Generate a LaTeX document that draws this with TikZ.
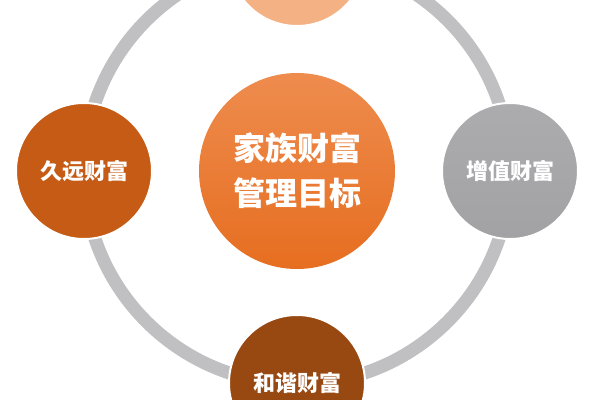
\documentclass[tikz,border=0pt]{standalone}
\usepackage{fontspec}
\newfontfamily\cjk{Noto Sans CJK SC}
\definecolor{ringgray}{RGB}{192,191,193}
\definecolor{peach}{RGB}{244,177,131}
\definecolor{rust}{RGB}{197,91,20}
\definecolor{deepbrown}{RGB}{152,73,18}
\definecolor{stonetop}{RGB}{172,171,174}
\definecolor{stonebottom}{RGB}{162,161,164}
\definecolor{goaltop}{RGB}{238,140,78}
\definecolor{goalbottom}{RGB}{230,110,32}
\tikzset{
  aim/.style={circle, draw=white, line width=1pt, minimum size=68pt, inner sep=0pt,
    text=white, font=\cjk\bfseries\fontsize{11}{13}\selectfont},
  goal/.style={circle, minimum size=98pt, inner sep=0pt, align=center,
    top color=goaltop, bottom color=goalbottom,
    text=white, font=\cjk\bfseries\fontsize{16}{22.5}\selectfont}
}
\begin{document}
\begin{tikzpicture}[x=0.5pt, y=-0.5pt]
  \useasboundingbox (0,0) rectangle (600,400);
  % outer ring
  \draw[ringgray, line width=6.5pt] (297,171) circle (213);

  % centre
  \node[goal] (core) at (297,171) {家族财富\\管理目标};

  % four goals on the ring
  \node[aim, fill=peach] (upper) at (297,-42) {};
  \node[aim, fill=rust] (lasting) at (84,171) {久远财富};
  \node[aim, top color=stonetop, bottom color=stonebottom] (growth) at (510,171) {增值财富};
  \node[aim, fill=deepbrown] (harmony) at (297,383) {和谐财富};
\end{tikzpicture}
\end{document}
